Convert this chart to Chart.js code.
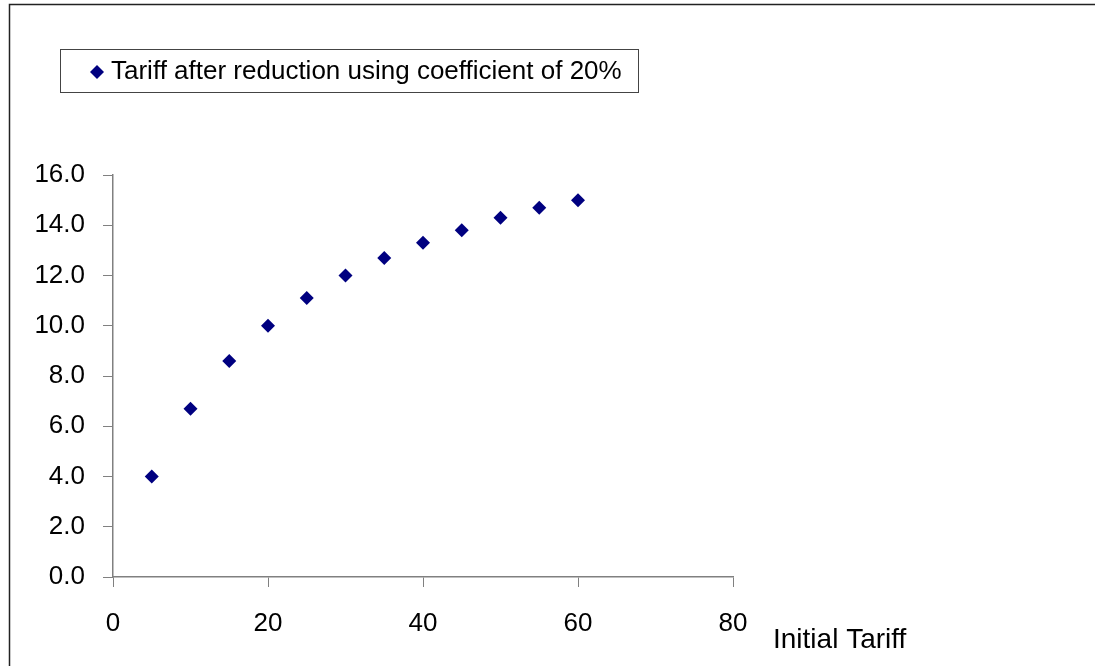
<!DOCTYPE html>
<html>
<head>
<meta charset="utf-8">
<script src="https://cdn.jsdelivr.net/npm/chart.js@4"></script>
<style>
  html, body { margin: 0; padding: 0; background: #fff; }
  #wrap { width: 1095px; height: 666px; position: relative; }
</style>
</head>
<body>
<div id="wrap"><canvas id="myChart"></canvas></div>
<script>
// data
const initialTariff = [5, 10, 15, 20, 25, 30, 35, 40, 45, 50, 55, 60];
const reducedTariff = [4.0, 6.7, 8.6, 10.0, 11.1, 12.0, 12.7, 13.3, 13.8, 14.3, 14.7, 15.0];
const seriesLabel = 'Tariff after reduction using coefficient of 20%';
const xAxisTitle = 'Initial Tariff';

const FONT = '"Liberation Sans", Arial, sans-serif';
const navy = '#000080';
const axisGrey = '#808080';

// frame, legend box and axis title, drawn like the old spreadsheet chart
const decorations = {
  id: 'decorations',
  afterDraw(chart) {
    const ctx = chart.ctx;
    ctx.save();
    // outer frame (only left and top show in the picture)
    ctx.strokeStyle = '#222';
    ctx.lineWidth = 1.5;
    ctx.strokeRect(9.5, 4.5, 1200, 800);

    // legend box
    ctx.strokeStyle = '#444';
    ctx.lineWidth = 1;
    ctx.strokeRect(60.5, 49.5, 578, 43);
    ctx.fillStyle = navy;
    ctx.beginPath();
    ctx.moveTo(97, 65);
    ctx.lineTo(104, 72);
    ctx.lineTo(97, 79);
    ctx.lineTo(90, 72);
    ctx.closePath();
    ctx.fill();
    ctx.fillStyle = '#000';
    ctx.font = '26px ' + FONT;
    ctx.textBaseline = 'middle';
    ctx.textAlign = 'left';
    ctx.fillText(chart.data.datasets[0].label, 111, 72);

    // x axis title
    ctx.font = '28px ' + FONT;
    ctx.fillText(xAxisTitle, 773, 640);
    ctx.restore();
  }
};

const ctx = document.getElementById('myChart').getContext('2d');
new Chart(ctx, {
  type: 'scatter',
  data: {
    datasets: [{
      label: seriesLabel,
      data: initialTariff.map((x, i) => ({ x: x, y: reducedTariff[i] })),
      pointStyle: 'rectRot',
      pointRadius: 7,
      pointHoverRadius: 7,
      backgroundColor: navy,
      borderColor: navy,
      borderWidth: 0
    }]
  },
  options: {
    responsive: true,
    maintainAspectRatio: false,
    animation: false,
    layout: { padding: { left: 0, top: 175, right: 362, bottom: 0 } },
    plugins: {
      legend: { display: false },
      tooltip: { enabled: false }
    },
    scales: {
      x: {
        type: 'linear',
        min: 0,
        max: 80,
        ticks: { stepSize: 20, color: '#000', font: { family: FONT, size: 26 }, padding: 21, maxRotation: 0 },
        grid: { drawOnChartArea: false, drawTicks: true, tickLength: 10, color: axisGrey },
        border: { display: true, color: axisGrey, width: 1.5 },
        afterFit(scale) { scale.height = 89; }
      },
      y: {
        min: 0,
        max: 16,
        ticks: {
          stepSize: 2,
          color: '#000',
          font: { family: FONT, size: 26 },
          padding: 18,
          callback: v => v.toFixed(1)
        },
        grid: { drawOnChartArea: false, drawTicks: true, tickLength: 10, color: axisGrey },
        border: { display: true, color: axisGrey, width: 1.5 },
        afterFit(scale) { scale.width = 113; }
      }
    }
  },
  plugins: [decorations]
});
</script>
</body>
</html>
